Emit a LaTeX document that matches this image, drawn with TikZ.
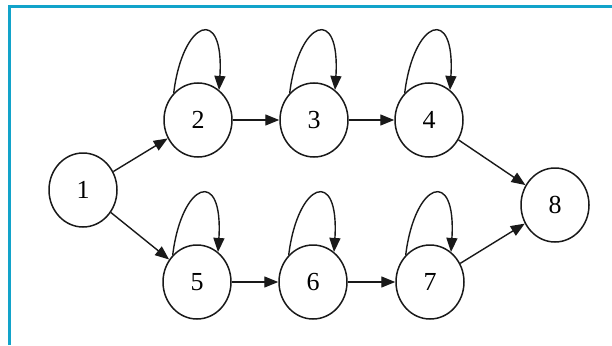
\documentclass[tikz,border=0pt]{standalone}
\usepackage{fontspec}
\setmainfont{Liberation Serif}
\usetikzlibrary{shapes.geometric,arrows.meta}
\definecolor{frameblue}{RGB}{18,163,202}
\definecolor{ink}{RGB}{25,25,25}
\begin{document}
\begin{tikzpicture}[x=1pt,y=-1pt,
  state/.style={ellipse,draw=ink,line width=1.5pt,minimum width=68pt,minimum height=74pt,inner sep=0pt,font=\fontsize{26}{26}\selectfont},
  edge/.style={draw=ink,line width=1.4pt,-{Triangle[length=14pt,width=11pt]}},
  frameline/.style={draw=frameblue,line width=3pt}]
\useasboundingbox (0,0) rectangle (612,345);
\fill[white] (0,0) rectangle (612,345);
\draw[frameline] (9,345) -- (9,7) -- (612,7);
\node[state] (n1) at (83,190) {1};
\node[state] (n2) at (198,120) {2};
\node[state] (n3) at (314,120) {3};
\node[state] (n4) at (429,120) {4};
\node[state] (n5) at (197,282) {5};
\node[state] (n6) at (313,282) {6};
\node[state] (n7) at (430,282) {7};
\node[state] (n8) at (555,205) {8};
\draw[edge] (n1) -- (n2);
\draw[edge] (n1) -- (n5);
\draw[edge] (n2) -- (n3);
\draw[edge] (n3) -- (n4);
\draw[edge] (n5) -- (n6);
\draw[edge] (n6) -- (n7);
\draw[edge] (n4) -- (n8);
\draw[edge] (n7) -- (n8);
\foreach \n in {n2,n3,n4,n5,n6,n7}
  \draw[edge] (\n.132) .. controls +(9,-73) and +(5.4,-85.6) .. (\n.55);
\end{tikzpicture}
\end{document}
